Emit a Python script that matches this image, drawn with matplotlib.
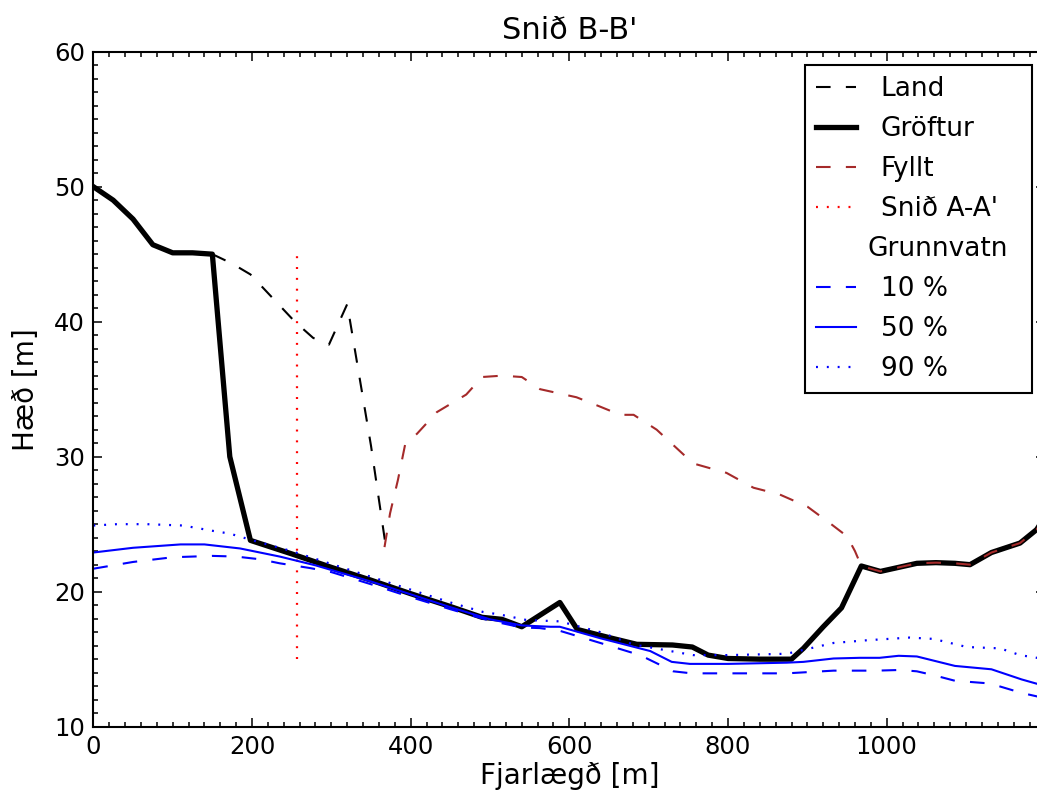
# Snið B-B' -- landhæð, gröftur, fylling og grunnvatn

import matplotlib
matplotlib.use("Agg")
import matplotlib.pyplot as plt
import matplotlib.transforms as mtransforms
from matplotlib.ticker import MultipleLocator, FuncFormatter

# land (only the part that is not under the ditch / fill)
land_x = [150, 175, 198, 254, 277, 297, 320, 350, 368]
land_y = [45.0, 44.3, 43.5, 40.0, 38.8, 38.3, 41.3, 30.8, 23.6]

# gröftur
grof_x = [0, 25, 50, 75, 100, 125, 150, 172, 198, 250, 300, 350, 400, 450, 490,
          515, 540, 588, 610, 650, 685, 730, 755, 775, 800, 840, 880, 895, 920,
          943, 968, 992, 1015, 1038, 1062, 1086, 1105, 1132, 1168, 1189, 1200]
grof_y = [50.0, 49.0, 47.6, 45.7, 45.1, 45.1, 45.0, 30.0, 23.8, 22.8, 21.8, 20.85,
          19.85, 18.9, 18.1, 17.95, 17.4, 19.2, 17.2, 16.6, 16.1, 16.05, 15.9, 15.3,
          15.05, 15.0, 15.0, 15.8, 17.4, 18.8, 21.9, 21.5, 21.8, 22.1, 22.15, 22.1,
          22.0, 22.9, 23.6, 24.6, 25.6]

# fyllt
fyllt_x = [367, 374, 384, 393, 408, 433, 470, 490, 515, 540, 563, 609, 639, 664,
           681, 710, 756, 798, 832, 865, 900, 930, 950, 960, 968, 992, 1015, 1038,
           1062, 1086, 1105, 1132, 1168, 1189, 1200]
fyllt_y = [23.3, 25.8, 28.3, 30.9, 31.7, 33.3, 34.6, 35.9, 36.0, 35.9, 35.0, 34.4,
           33.7, 33.1, 33.1, 32.0, 29.5, 28.8, 27.7, 27.2, 26.3, 25.0, 24.1, 23.0,
           21.9, 21.5, 21.8, 22.1, 22.15, 22.1, 22.0, 22.9, 23.6, 24.6, 25.6]

# snið A-A'
snid_x = [257, 257]
snid_y = [15, 45]

# grunnvatn 10 %, 50 %, 90 %
g10_x = [0, 50, 100, 150, 180, 210, 235, 273, 300, 350, 400, 450, 500, 540, 563,
         588, 639, 689, 731, 754, 800, 874, 933, 987, 1017, 1038, 1060, 1086, 1130,
         1170, 1200]
g10_y = [21.7, 22.2, 22.55, 22.65, 22.6, 22.4, 22.1, 21.75, 21.45, 20.55, 19.6,
         18.7, 17.85, 17.35, 17.3, 17.1, 16.2, 15.3, 14.1, 13.95, 13.95, 13.95, 14.15,
         14.15, 14.2, 14.1, 13.8, 13.4, 13.2, 12.5, 12.1]

g50_x = [0, 50, 110, 140, 185, 235, 280, 350, 400, 450, 500, 540, 576, 588, 639,
         702, 729, 752, 800, 874, 895, 933, 966, 991, 1015, 1038, 1086, 1132, 1170,
         1200]
g50_y = [22.9, 23.25, 23.5, 23.5, 23.2, 22.6, 21.95, 20.75, 19.8, 18.85, 17.95,
         17.5, 17.4, 17.4, 16.55, 15.6, 14.8, 14.65, 14.65, 14.74, 14.8, 15.05, 15.1,
         15.1, 15.25, 15.2, 14.5, 14.25, 13.5, 13.0]

g90_x = [0, 30, 67, 113, 151, 172, 198, 250, 300, 350, 400, 450, 491, 513, 546,
         588, 639, 680, 756, 800, 874, 933, 975, 1029, 1059, 1101, 1143, 1168, 1200]
g90_y = [24.9, 25.0, 25.0, 24.9, 24.5, 24.3, 23.85, 23.0, 22.05, 21.1, 20.15, 19.2,
         18.5, 18.3, 17.9, 17.8, 17.0, 16.1, 15.3, 15.3, 15.4, 16.2, 16.4, 16.6, 16.5,
         15.9, 15.8, 15.3, 15.0]

plt.rcParams["font.family"] = "DejaVu Sans"
plt.rcParams["lines.scale_dashes"] = False

fig = plt.figure(figsize=(10.37, 8.01), dpi=100)
# axes run a little past the right edge of the picture, as in the original
ax = fig.add_axes([0.090, 0.0928, 0.9181, 0.8427])

dash = (0, (10.5, 11))
dot = (0, (1.4, 6.4))

ax.plot(land_x, land_y, color="k", lw=1.5, linestyle=dash, label="Land")
ax.plot(grof_x, grof_y, color="k", lw=3.8, label="Gröftur")
ax.plot(fyllt_x, fyllt_y, color="brown", lw=1.5, linestyle=dash, label="Fyllt")
ax.plot(snid_x, snid_y, color="r", lw=1.6, linestyle=dot, label="Snið A-A'")
ax.plot([], [], color="none", label="Grunnvatn")
ax.plot(g10_x, g10_y, color="b", lw=1.5, linestyle=dash, label="10 %")
ax.plot(g50_x, g50_y, color="b", lw=1.5, label="50 %")
ax.plot(g90_x, g90_y, color="b", lw=1.6, linestyle=dot, label="90 %")

ax.set_xlim(0, 1200)
ax.set_ylim(10, 60)
ax.xaxis.set_major_locator(MultipleLocator(200))
ax.xaxis.set_minor_locator(MultipleLocator(20))
# the 1200 label falls outside the picture in the original
ax.xaxis.set_major_formatter(FuncFormatter(lambda v, p: "" if v >= 1200 else "%d" % v))
ax.yaxis.set_major_locator(MultipleLocator(10))
ax.yaxis.set_minor_locator(MultipleLocator(1))
ax.tick_params(which="both", direction="in", top=True, right=True, width=1.1)
ax.tick_params(which="major", length=6.5, labelsize=17.5, pad=6)
ax.tick_params(which="minor", length=3.6)
for s in ax.spines.values():
    s.set_linewidth(1.5)

ax.set_title("Snið B-B'", fontsize=22, pad=9)
ax.set_xlabel("Fjarlægð [m]", fontsize=20, labelpad=2)
ax.set_ylabel("Hæð [m]", fontsize=20, labelpad=10)

leg = ax.legend(loc="upper right", fontsize=19, handlelength=1.5,
                handletextpad=0.95, labelspacing=0.53, borderpad=0.42,
                borderaxespad=0.5, fancybox=False, framealpha=1)
leg.get_frame().set_edgecolor("k")
leg.get_frame().set_linewidth(1.5)
# "Grunnvatn" sits a bit to the left of the other labels
for t in leg.get_texts():
    if t.get_text() == "Grunnvatn":
        t.set_transform(t.get_transform() + mtransforms.Affine2D().translate(-13, 0))

fig.savefig("out.png", dpi=100)
